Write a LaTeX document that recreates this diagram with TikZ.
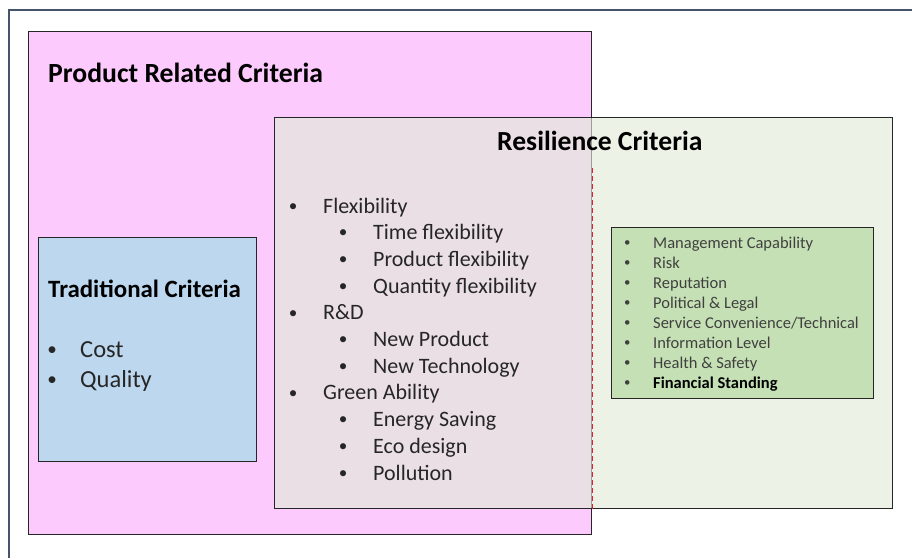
\documentclass[tikz,border=0pt]{standalone}
\usepackage{fontspec}
\setmainfont{Carlito}
\usepackage{tikz}
\usetikzlibrary{positioning}

\definecolor{pinkfill}{RGB}{252,202,252}
\definecolor{bluefill}{RGB}{189,215,238}
\definecolor{resilfill}{RGB}{224,236,215}
\definecolor{greenfill}{RGB}{197,224,180}
\definecolor{framecol}{RGB}{68,84,106}
\definecolor{textcol}{RGB}{38,38,38}
\definecolor{greytext}{RGB}{64,64,64}
\definecolor{dashred}{RGB}{230,30,50}

\newcommand{\bitem}[2][36pt]{\makebox[#1][l]{\makebox[12pt]{\raisebox{0.08em}{\scalebox{0.78}{\textbullet}}}}#2}
\newcommand{\bsub}[1]{\hspace*{50pt}\bitem{#1}}

\begin{document}
\begin{tikzpicture}[x=1pt, y=-1pt]
	\tikzstyle{box}=[draw=textcol, line width=1.2pt, anchor=north west, inner sep=0pt]
	\tikzstyle{heading}=[text=black, inner sep=0pt]
	\tikzstyle{listing}=[align=left, text=textcol, inner sep=0pt]
	\tikzstyle{divider}=[draw=dashred, line width=1.3pt, dash pattern=on 5pt off 3pt]
	\useasboundingbox (0,0) rectangle (912,557);
	% % Boxes
	% slide frame
	\node[draw=framecol, line width=2pt, anchor=north west,
		  minimum width=920pt, minimum height=560pt] (frame) at (8,9) {};
	% product related
	\node[box, fill=pinkfill, minimum width=563pt, minimum height=503pt]
	(product) at (28,31) {};
	% traditional
	\node[box, fill=bluefill, minimum width=218pt, minimum height=224pt]
	(trad) at (38,237) {};
	% resilience
	\node[box, fill=resilfill, fill opacity=0.62, draw opacity=1,
		  minimum width=618pt, minimum height=391pt]
	(resil) at (274,117) {};
	% financial etc.
	\node[box, fill=greenfill, minimum width=262pt, minimum height=171pt]
	(fin) at (611,227) {};
	% border of product box inside resilience box
	\path (resil.north -| product.east) ++(0,51) coordinate (dashtop);
	\draw[divider] (dashtop) -- (dashtop |- resil.south);
	% % Texts
	\node[heading, below right=51pt and 20pt of product.north west, anchor=base west,
		  font=\fontsize{27.7}{33}\selectfont\bfseries]
	(producttitle) {Product Related Criteria};
	\node[heading, below right=60pt and 10pt of trad.north west, anchor=base west,
		  font=\fontsize{24.9}{30}\selectfont\bfseries]
	(tradtitle) {Traditional Criteria};
	\node[heading, below right=33pt and 223pt of resil.north west, anchor=base west,
		  font=\fontsize{27.6}{33}\selectfont\bfseries]
	(resiltitle) {Resilience Criteria};
	% traditional list (base = last line)
	\node[listing, below right=150pt and 8pt of trad.north west, anchor=base west,
		  font=\fontsize{24.5}{30}\selectfont]
	(tradlist)
	{
		\bitem[34pt]{Cost} \\
		\bitem[34pt]{Quality}
	};
	% resilience list
	\node[listing, below right=363pt and 13pt of resil.north west, anchor=base west,
		  font=\fontsize{22}{26.7}\selectfont]
	(resillist)
	{
		\bitem{Flexibility} \\
		\bsub{Time flexibility} \\
		\bsub{Product flexibility} \\
		\bsub{Quantity flexibility} \\
		\bitem{R\&D} \\
		\bsub{New Product} \\
		\bsub{New Technology} \\
		\bitem{Green Ability} \\
		\bsub{Energy Saving} \\
		\bsub{Eco design} \\
		\bsub{Pollution}
	};
	% green list
	\node[listing, text=greytext, below right=161pt and 10pt of fin.north west, anchor=base west,
		  font=\fontsize{16.5}{20}\selectfont]
	(finlist)
	{
		\bitem[32pt]{Management Capability} \\
		\bitem[32pt]{Risk} \\
		\bitem[32pt]{Reputation} \\
		\bitem[32pt]{Political \& Legal} \\
		\bitem[32pt]{Service Convenience/Technical} \\
		\bitem[32pt]{Information Level} \\
		\bitem[32pt]{Health \& Safety} \\
		\bitem[32pt]{\textcolor{black}{\bfseries Financial Standing}}
	};
\end{tikzpicture}
\end{document}
